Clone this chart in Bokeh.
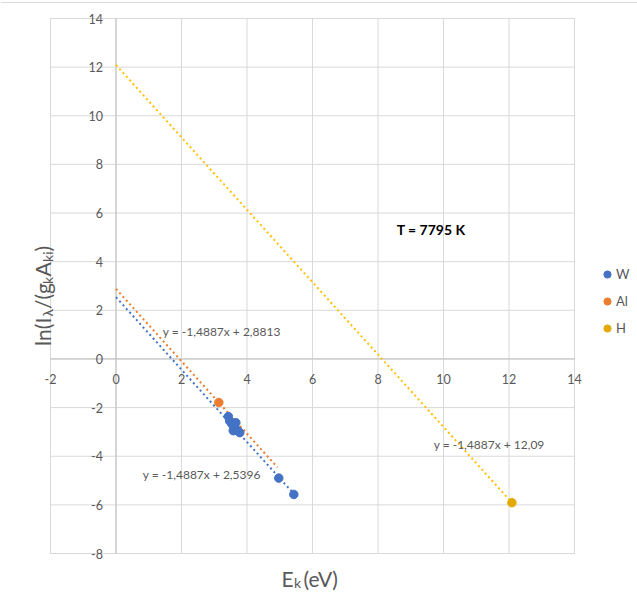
import numpy as np
from bokeh.plotting import figure
from bokeh.models import Label, Legend, LegendItem, Range1d, Span
from bokeh.embed import file_html
from bokeh.resources import INLINE
from bokeh.core.properties import value

# ---- data ----
w_energy = [3.43, 3.47, 3.53, 3.58, 3.62, 3.66, 3.72, 3.78, 4.97, 5.43]
w_lnratio = [-2.37, -2.55, -2.66, -2.95, -2.82, -2.62, -2.95, -3.03, -4.90, -5.57]
al_energy = [3.14]
al_lnratio = [-1.79]
h_energy = [12.09]
h_lnratio = [-5.91]

slope = -1.4887
w_intercept = 2.5396
al_intercept = 2.8813
h_intercept = 12.09
w_fit_range = [0.0, 5.43]
al_fit_range = [0.0, 4.93]
h_fit_range = [0.0, 12.09]

x_ticks = [-2, 0, 2, 4, 6, 8, 10, 12, 14]
y_ticks = [-8, -6, -4, -2, 0, 2, 4, 6, 8, 10, 12, 14]
x_tick_labels = [str(t) for t in x_ticks]
y_tick_labels = [str(t) for t in y_ticks]
temperature_label = "T = 7795 K"

BLUE = "#4472C4"
ORANGE = "#ED7D31"
GOLD_LINE = "#FFC000"
GOLD_MARK = "#E2AA00"
TXT = "#595959"
GRID = "#D9D9D9"
AXIS = "#BFBFBF"
FONT = "Lato"

# ---- layout (pixels) ----
W, H = 637, 601
PL, PR, PT, PB = 50, 574, 18, 553
xmin, xmax, ymin, ymax = x_ticks[0], x_ticks[-1], y_ticks[0], y_ticks[-1]
xppu = (PR - PL) / (xmax - xmin)
yppu = (PB - PT) / (ymax - ymin)
x_range = Range1d(xmin - PL / xppu, xmax + (W - PR) / xppu)
y_range = Range1d(ymin - (H - PB) / yppu, ymax + PT / yppu)

p = figure(width=W, height=H, x_range=x_range, y_range=y_range,
           output_backend="svg", toolbar_location=None, min_border=0,
           x_axis_type=None, y_axis_type=None)
p.outline_line_color = None
p.grid.visible = False
p.background_fill_color = "white"
p.border_fill_color = "white"

# chart border (top)
p.add_layout(Span(location=y_range.end - 2 / yppu, dimension="width", line_color=GRID, line_width=1))

# grid
p.segment(x0=x_ticks, x1=x_ticks, y0=ymin, y1=ymax, line_color=GRID, line_width=1)
p.segment(x0=xmin, x1=xmax, y0=y_ticks, y1=y_ticks, line_color=GRID, line_width=1)
p.quad(left=[xmin], right=[xmax], bottom=[ymin], top=[ymax], fill_color=None, line_color=GRID)
# axes lines at 0
p.segment(x0=[xmin], x1=[xmax], y0=[0], y1=[0], line_color=AXIS, line_width=1)
p.segment(x0=[0], x1=[0], y0=[ymin], y1=[ymax], line_color=AXIS, line_width=1)

# tick labels
p.text(x=x_ticks, y=[0] * len(x_ticks), text=x_tick_labels, text_font=value(FONT),
       text_font_size="12.5px", text_color=TXT, text_align="center",
       text_baseline="middle", y_offset=20)
p.text(x=[0] * len(y_ticks), y=y_ticks, text=y_tick_labels, text_font=value(FONT),
       text_font_size="12.5px", text_color=TXT, text_align="right",
       text_baseline="middle", x_offset=-13)

# trendlines
for rng, b, col in ((w_fit_range, w_intercept, BLUE), (al_fit_range, al_intercept, ORANGE),
                    (h_fit_range, h_intercept, GOLD_LINE)):
    xs = np.array(rng)
    p.line(xs, slope * xs + b, line_color=col, line_width=2, line_dash="2 3")

rw = p.scatter(w_energy, w_lnratio, size=8.5, fill_color=BLUE, line_color=BLUE)
ra = p.scatter(al_energy, al_lnratio, size=8.5, fill_color=ORANGE, line_color=ORANGE)
rh = p.scatter(h_energy, h_lnratio, size=8.5, fill_color=GOLD_MARK, line_color=GOLD_MARK)

legend = Legend(items=[LegendItem(label="W", renderers=[rw]),
                       LegendItem(label="Al", renderers=[ra]),
                       LegendItem(label="H", renderers=[rh])],
                location=(598, H - 337), orientation="vertical",
                glyph_width=18, glyph_height=18, label_height=18, spacing=9,
                label_standoff=0, padding=0, margin=0,
                border_line_color=None, background_fill_alpha=0,
                label_text_font=FONT, label_text_font_size="13px", label_text_color=TXT)
p.add_layout(legend, "center")

# equation labels
def eq(b):
    s = f"{b:.4f}".rstrip("0").replace(".", ",")
    return f"y = {slope:.4f}x + {s}".replace(".", ",")

for txt, x, y in ((eq(al_intercept), 1.43, 1.13), (eq(w_intercept), 0.82, -4.75),
                  (eq(h_intercept), 9.70, -3.52)):
    p.add_layout(Label(x=x, y=y, text=txt, text_font=FONT, text_font_size="12px",
                       text_color=TXT, text_align="left", text_baseline="middle"))

p.add_layout(Label(x=8.57, y=5.32, text=temperature_label, text_font=FONT,
                   text_font_size="14px", text_font_style="bold", text_color="black",
                   text_align="left", text_baseline="middle"))

# x axis title: E_k (eV)
for txt, sx, py, size in (("E", 281, 578, "21px"), ("k", 293.5, 582, "14px"), ("(eV)", 303, 578, "21px")):
    p.add_layout(Label(x=sx, y=H - py, x_units="screen", y_units="screen", text=txt,
                       text_font=FONT, text_font_size=size, text_color=TXT,
                       text_align="left", text_baseline="alphabetic"))

# y axis title: ln(I_λ/(g_k A_ki)
pieces = [("ln(I", 21, False, 29.4), ("λ", 14, True, 7.5), ("/(g", 21, False, 25.1),
          ("k", 14, True, 7.3), ("A", 21, False, 14.7), ("ki", 14, True, 10.5), (")", 21, False, 6.3)]
total = sum(pc[3] for pc in pieces)
center_py = 295
pos = H - (center_py + total / 2)
for txt, size, sub, adv in pieces:
    p.add_layout(Label(x=42 + (4.5 if sub else 0), y=pos, x_units="screen", y_units="screen",
                       text=txt, angle=np.pi / 2, text_font=FONT, text_font_size=f"{size}px",
                       text_color=TXT, text_align="left", text_baseline="alphabetic"))
    pos += adv

open("out.html", "w").write(file_html(p, INLINE))
